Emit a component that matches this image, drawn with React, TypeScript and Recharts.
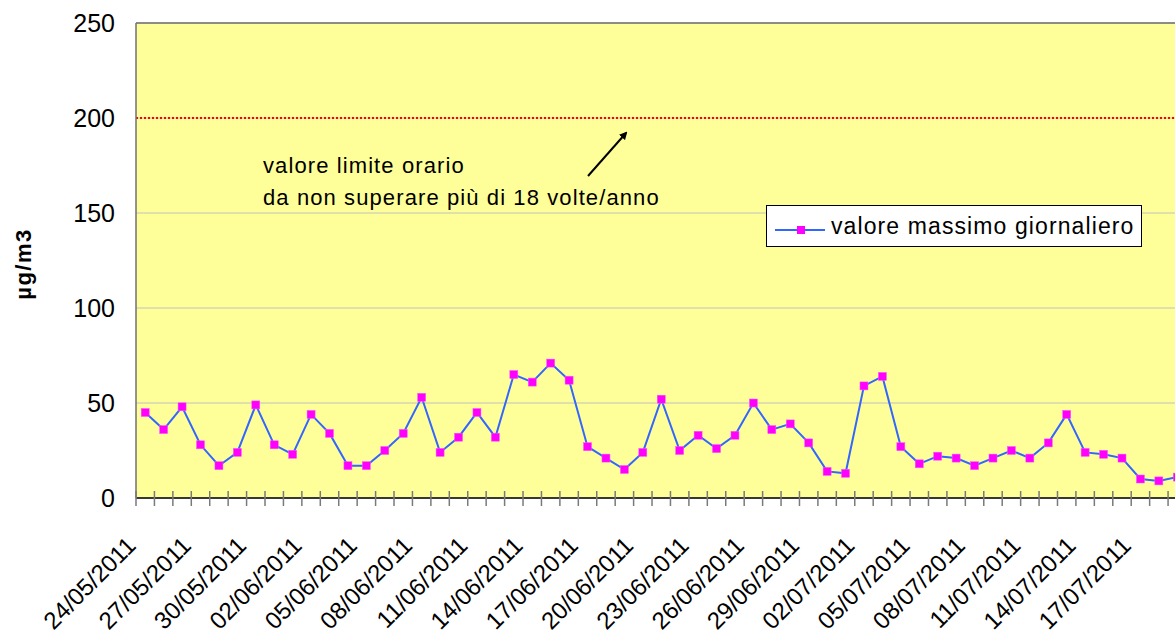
import { LineChart, Line, XAxis, YAxis, CartesianGrid, ReferenceLine } from "recharts";

const dates = [
  "24/05/2011", "25/05/2011", "26/05/2011", "27/05/2011", "28/05/2011", "29/05/2011",
  "30/05/2011", "31/05/2011", "01/06/2011", "02/06/2011", "03/06/2011", "04/06/2011",
  "05/06/2011", "06/06/2011", "07/06/2011", "08/06/2011", "09/06/2011", "10/06/2011",
  "11/06/2011", "12/06/2011", "13/06/2011", "14/06/2011", "15/06/2011", "16/06/2011",
  "17/06/2011", "18/06/2011", "19/06/2011", "20/06/2011", "21/06/2011", "22/06/2011",
  "23/06/2011", "24/06/2011", "25/06/2011", "26/06/2011", "27/06/2011", "28/06/2011",
  "29/06/2011", "30/06/2011", "01/07/2011", "02/07/2011", "03/07/2011", "04/07/2011",
  "05/07/2011", "06/07/2011", "07/07/2011", "08/07/2011", "09/07/2011", "10/07/2011",
  "11/07/2011", "12/07/2011", "13/07/2011", "14/07/2011", "15/07/2011", "16/07/2011",
  "17/07/2011", "18/07/2011", "19/07/2011",
];

const maxValues = [
  45, 36, 48, 28, 17, 24, 49, 28, 23, 44, 34, 17, 17, 25, 34, 53, 24, 32, 45, 32,
  65, 61, 71, 62, 27, 21, 15, 24, 52, 25, 33, 26, 33, 50, 36, 39, 29, 14, 13, 59,
  64, 27, 18, 22, 21, 17, 21, 25, 21, 29, 44, 24, 23, 21, 10, 9, 11,
];

const yTicks = [0, 50, 100, 150, 200, 250];
const limitValue = 200;
const seriesName = "valore massimo giornaliero";
const noteLines = ["valore limite orario", "da non superare più di 18 volte/anno"];
const unitLabel = "µg/m3";

const FONT = "'Liberation Sans', Arial, sans-serif";
const W = 1200;
const H = 639;
const Y_W = 136;
const X_H = 141;
const margin = { top: 23, right: 13.5, left: 0, bottom: 0 };
const step = (W - margin.right - Y_W) / dates.length;

const data = dates.map((d, i) => ({ date: d, value: maxValues[i] }));

function DateTick(props: any) {
  const { x, y, payload, index } = props;
  const i = payload?.index ?? index;
  const bx = x - step / 2;
  const tx = x - 8;
  const ty = y + 49;
  return (
    <g>
      <line x1={bx} x2={bx} y1={y - 7} y2={y + 8} stroke="#7a7a7a" strokeWidth={1.5} />
      {i % 3 === 0 && (
        <text
          x={tx}
          y={ty}
          textAnchor="end"
          transform={`rotate(-45 ${tx} ${ty})`}
          fontSize={24}
          fontFamily={FONT}
          fill="#000"
        >
          {payload.value}
        </text>
      )}
    </g>
  );
}

function SquareDot(props: any) {
  const { cx, cy, index } = props;
  if (cx == null || cy == null) return <g key={index} />;
  return <rect key={index} x={cx - 4} y={cy - 4} width={8} height={8} fill="#FF00FF" stroke="#FF55FF" strokeWidth={0.5} />;
}

function LegendBox() {
  return (
    <div
      style={{
        position: "absolute",
        left: 766,
        top: 205,
        width: 374,
        height: 40,
        background: "#fff",
        border: "1px solid #000",
        display: "flex",
        alignItems: "center",
        fontFamily: FONT,
        fontSize: 23,
        letterSpacing: 1.1,
        color: "#000",
      }}
    >
      <svg width={60} height={40} style={{ flex: "none" }}>
        <line x1={8} x2={58} y1={24} y2={24} stroke="#3366FF" strokeWidth={2} />
        <rect x={30} y={20} width={8} height={8} fill="#FF00FF" />
      </svg>
      <span style={{ marginLeft: 4 }}>{seriesName}</span>
    </div>
  );
}

export default function App() {
  return (
    <div style={{ position: "absolute", left: 0, top: 0, width: 1175, height: 639, overflow: "hidden", background: "#fff" }}>
      <LineChart width={W} height={H} data={data} margin={margin}>
        <CartesianGrid horizontal vertical={false} stroke="#C0C0C0" fill="#FFFF99" fillOpacity={1} />
        <XAxis
          dataKey="date"
          interval={0}
          height={X_H}
          tickSize={0}
          tickMargin={0}
          tickLine={false}
          tick={<DateTick />}
          padding={{ left: step / 2, right: step / 2 }}
          axisLine={{ stroke: "#000", strokeWidth: 1.5 }}
        />
        <YAxis
          width={Y_W}
          domain={[0, 250]}
          ticks={yTicks}
          tickLine={false}
          tickSize={0}
          tickMargin={21}
          axisLine={{ stroke: "#707070", strokeWidth: 1.5 }}
          tick={{ fontSize: 25, fill: "#000", fontFamily: FONT }}
        />
        <ReferenceLine y={250} stroke="#707070" strokeWidth={1.5} />
        <ReferenceLine y={limitValue} stroke="#FF0000" strokeWidth={2.2} strokeDasharray="2 2" />
        <Line
          type="linear"
          dataKey="value"
          name={seriesName}
          stroke="#3366FF"
          strokeWidth={2}
          dot={<SquareDot />}
          activeDot={false}
          isAnimationActive={false}
        />
      </LineChart>
      <LegendBox />
      <svg
        width={1175}
        height={639}
        style={{ position: "absolute", left: 0, top: 0, pointerEvents: "none" }}
      >
        <defs>
          <marker id="arrowHead" markerWidth={8} markerHeight={8} refX={6} refY={4} orient="auto" markerUnits="userSpaceOnUse">
            <path d="M0,0 L8,4 L0,8 z" fill="#000" />
          </marker>
        </defs>
        <text
          transform="translate(31 264) rotate(-90)"
          textAnchor="middle"
          fontFamily={FONT}
          fontWeight="bold"
          fontSize={22}
          letterSpacing={1.5}
          fill="#000"
        >
          {unitLabel}
        </text>
        {noteLines.map((t, i) => (
          <text key={t} x={263} y={173 + i * 32} fontFamily={FONT} fontSize={22} letterSpacing={1.1} fill="#000">
            {t}
          </text>
        ))}
        <line x1={588} y1={176} x2={626} y2={133} stroke="#000" strokeWidth={2} markerEnd="url(#arrowHead)" />
      </svg>
    </div>
  );
}
